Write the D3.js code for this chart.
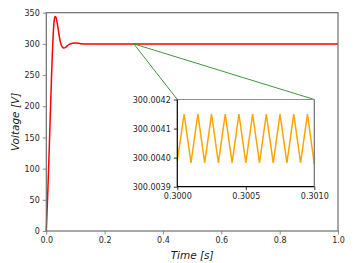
<!DOCTYPE html>
<html>
<head>
<meta charset="utf-8">
<script src="https://cdn.jsdelivr.net/npm/d3@7"></script>
<style>
  body { margin: 0; background: #fff; }
  svg { font-family: "DejaVu Sans", sans-serif; }
</style>
</head>
<body>
<div id="chart"></div>
<script>
// main voltage trace
var timeMain = [0, 0.005, 0.01, 0.015, 0.02, 0.024, 0.027, 0.03, 0.033, 0.036, 0.04, 0.045, 0.05, 0.055, 0.06, 0.065, 0.07, 0.08, 0.09, 0.1, 0.11, 0.12, 0.14, 0.2, 1.0];
var voltMain = [0, 60, 130, 205, 275, 318, 337, 344, 343, 337, 326, 311, 300, 295, 293.5, 294, 296, 299.5, 301, 301.5, 301, 300.3, 299.8, 300, 300];

// inset: ripple around 300 V
var timeZoom = [0.3000, 0.30005, 0.3001, 0.30015, 0.3002, 0.30025, 0.3003, 0.30035, 0.3004, 0.30045, 0.3005, 0.30055, 0.3006, 0.30065, 0.3007, 0.30075, 0.3008, 0.30085, 0.3009, 0.30095, 0.3010];
var voltZoom = [300.003990, 300.004150, 300.003982, 300.004150, 300.003982, 300.004150, 300.003982, 300.004150, 300.003982, 300.004150, 300.003982, 300.004150, 300.003982, 300.004150, 300.003982, 300.004150, 300.003982, 300.004150, 300.003982, 300.004150, 300.003978];

var xTicks = [0, 0.2, 0.4, 0.6, 0.8, 1.0];
var yTicks = [0, 50, 100, 150, 200, 250, 300, 350];
var xTicksZoom = [0.3000, 0.3005, 0.3010];
var yTicksZoom = [300.0039, 300.0040, 300.0041, 300.0042];

var W = 357, H = 263;
var margin = {top: 12.7, right: 19, bottom: 32, left: 46.3},
    width = W - margin.left - margin.right,
    height = H - margin.top - margin.bottom;

var svg = d3.select("#chart").append("svg")
    .attr("width", W)
    .attr("height", H);

var g = svg.append("g")
    .attr("transform", "translate(" + margin.left + "," + margin.top + ")");

var x = d3.scaleLinear().domain([0, 1]).range([0, width]);
var y = d3.scaleLinear().domain([0, 350]).range([height, 0]);

var line = d3.line()
    .x(function(d){ return x(d[0]); })
    .y(function(d){ return y(d[1]); });

var mainData = timeMain.map(function(t, i){ return [t, voltMain[i]]; });

g.append("path")
    .datum(mainData)
    .attr("d", line.curve(d3.curveMonotoneX))
    .style("fill", "none")
    .style("stroke", "#ff0000")
    .style("stroke-width", "1.5px");

// axes
var spine = "#6e6e6e";
var xAxis = g.append("g")
    .attr("transform", "translate(0," + height + ")")
    .call(d3.axisBottom(x).tickValues(xTicks).tickFormat(d3.format(".1f")).tickSizeOuter(0).tickSize(3.5).tickPadding(3));
var yAxis = g.append("g")
    .call(d3.axisLeft(y).tickValues(yTicks).tickSizeOuter(0).tickSize(3.5).tickPadding(3));
[xAxis, yAxis].forEach(function(a){
    a.select(".domain").remove();
    a.selectAll("line").attr("stroke", spine).attr("stroke-width", 0.8);
    a.selectAll("text").attr("fill", "#262626").style("font-size", "8px").style("font-family", "DejaVu Sans");
});

// frame
g.append("rect")
    .attr("width", width)
    .attr("height", height)
    .style("fill", "none")
    .style("stroke", spine)
    .style("stroke-width", "1.2px");

// axis labels
svg.append("text")
    .attr("x", margin.left + width / 2)
    .attr("y", 259)
    .attr("text-anchor", "middle")
    .style("font-size", "10.5px")
    .style("font-style", "italic")
    .attr("fill", "#1a1a1a")
    .text("Time [s]");

svg.append("text")
    .attr("transform", "translate(19," + (margin.top + height / 2) + ") rotate(-90)")
    .attr("text-anchor", "middle")
    .style("font-size", "10.5px")
    .style("font-style", "italic")
    .attr("fill", "#1a1a1a")
    .text("Voltage [V]");

// inset
var inset = {left: 177.3, top: 99.5, width: 137, height: 87.2};

// connector lines from the zoomed spot to the inset corners
var spotX = margin.left + x(timeZoom[0]), spotY = margin.top + y(300);
[inset.left, inset.left + inset.width].forEach(function(cx){
    svg.append("line")
        .attr("x1", spotX).attr("y1", spotY)
        .attr("x2", cx).attr("y2", inset.top)
        .style("stroke", "#2a8a2a")
        .style("stroke-width", "0.9px");
});

var gi = svg.append("g")
    .attr("transform", "translate(" + inset.left + "," + inset.top + ")");

gi.append("rect")
    .attr("width", inset.width)
    .attr("height", inset.height)
    .style("fill", "#fff");

var xi = d3.scaleLinear().domain([0.3000, 0.3010]).range([0, inset.width]);
var yi = d3.scaleLinear().domain([300.0039, 300.0042]).range([inset.height, 0]);

var lineZoom = d3.line()
    .x(function(d){ return xi(d[0]); })
    .y(function(d){ return yi(d[1]); });

gi.append("path")
    .datum(timeZoom.map(function(t, i){ return [t, voltZoom[i]]; }))
    .attr("d", lineZoom)
    .style("fill", "none")
    .style("stroke", "#ffa500")
    .style("stroke-width", "1.5px");

var xiAxis = gi.append("g")
    .attr("transform", "translate(0," + inset.height + ")")
    .call(d3.axisBottom(xi).tickValues(xTicksZoom).tickFormat(d3.format(".4f")).tickSizeOuter(0).tickSize(3.5).tickPadding(3));
var yiAxis = gi.append("g")
    .call(d3.axisLeft(yi).tickValues(yTicksZoom).tickFormat(d3.format(".4f")).tickSizeOuter(0).tickSize(3.5).tickPadding(3));
[xiAxis, yiAxis].forEach(function(a){
    a.select(".domain").remove();
    a.selectAll("line").attr("stroke", "#000").attr("stroke-width", 0.8);
    a.selectAll("text").attr("fill", "#262626").style("font-size", "8px").style("font-family", "DejaVu Sans");
});

// inset spines: top/right gray, left/bottom black
gi.append("line").attr("x1", 0).attr("y1", 0).attr("x2", inset.width).attr("y2", 0)
    .style("stroke", "#8c8c8c").style("stroke-width", "1.2px");
gi.append("line").attr("x1", inset.width).attr("y1", 0).attr("x2", inset.width).attr("y2", inset.height)
    .style("stroke", "#6e6e6e").style("stroke-width", "1.2px");
gi.append("line").attr("x1", 0).attr("y1", 0).attr("x2", 0).attr("y2", inset.height)
    .style("stroke", "#000").style("stroke-width", "1.2px");
gi.append("line").attr("x1", 0).attr("y1", inset.height).attr("x2", inset.width).attr("y2", inset.height)
    .style("stroke", "#000").style("stroke-width", "1.2px");
</script>
</body>
</html>
